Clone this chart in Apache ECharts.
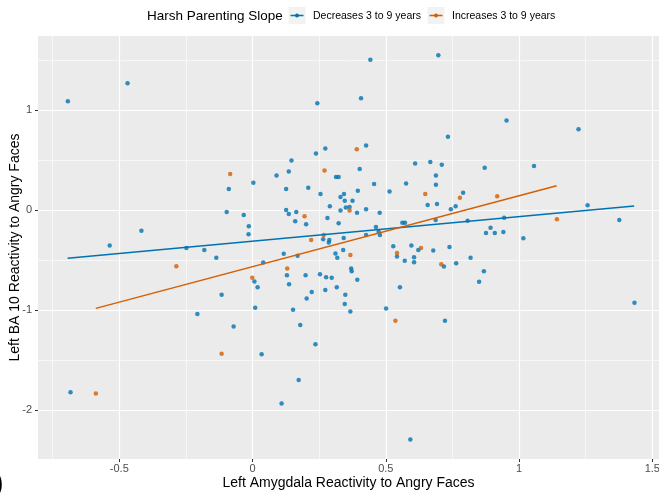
<!DOCTYPE html>
<html>
<head>
<meta charset="utf-8">
<title>Harsh Parenting Slope</title>
<script src="https://cdn.jsdelivr.net/npm/echarts@6/dist/echarts.min.js"></script>
<style>
    html, body { margin: 0; padding: 0; background: #fff; }
    #main { width: 659px; height: 497px; }
</style>
</head>
<body>
<div id="main"></div>
<script>
// 坐标轴刻度
var x_ticks = [-0.5, 0, 0.5, 1, 1.5];
var x_minor = [-0.75, -0.25, 0.25, 0.75, 1.25];
var y_ticks = [-2, -1, 0, 1];
var y_minor = [-1.5, -0.5, 0.5, 1.5];

var legend_names = ['Decreases 3 to 9 years', 'Increases 3 to 9 years'];

// Decreases 3 to 9 years
var decreases_points = [
    [-0.693, 1.09], [-0.469, 1.27], [0.003, 0.276], [-0.089, 0.213], [-0.097, -0.017], [-0.033, -0.047], [-0.014, -0.16],
    [0.442, 1.505], [0.697, 1.55], [0.243, 1.07], [0.407, 1.12], [0.733, 0.735], [0.238, 0.568], [0.273, 0.618],
    [0.426, 0.648], [0.146, 0.499], [0.09, 0.349], [0.136, 0.389], [0.313, 0.332], [0.323, 0.332], [0.402, 0.412],
    [0.61, 0.469], [0.667, 0.482], [0.71, 0.455], [0.126, 0.213], [0.209, 0.226], [0.456, 0.262], [0.576, 0.269],
    [0.688, 0.349], [0.688, 0.256], [0.514, 0.189], [0.255, 0.163], [0.343, 0.163], [0.33, 0.133], [0.395, 0.196],
    [0.346, 0.096], [0.375, 0.096], [0.29, 0.04], [0.35, 0.027], [0.364, 0.033], [0.426, 0.01], [0.33, -0.003],
    [0.392, -0.023], [0.477, -0.023], [0.657, 0.053], [0.692, 0.063], [0.744, 0.01], [0.762, 0.04], [0.126, 0.003],
    [0.136, -0.037], [0.164, -0.017], [0.16, -0.11], [0.201, -0.14], [0.281, -0.077], [0.323, -0.13], [0.463, -0.166],
    [0.562, -0.123], [0.572, -0.123], [0.687, -0.097],
    [0.953, 0.897], [1.223, 0.811], [0.871, 0.425], [1.056, 0.442], [0.79, 0.176], [0.807, -0.103], [0.944, -0.073],
    [0.893, -0.173], [1.257, 0.05], [1.376, -0.097],
    [-0.417, -0.203], [-0.536, -0.352], [-0.248, -0.376], [-0.181, -0.396], [-0.136, -0.475], [-0.015, -0.239],
    [0.007, -0.711], [0.019, -0.768], [-0.116, -0.844], [0.01, -0.974], [-0.207, -1.037], [-0.071, -1.16], [-0.683, -1.818],
    [0.265, -0.289], [0.288, -0.296], [0.286, -0.322], [0.342, -0.276], [0.426, -0.246], [0.478, -0.246], [0.473, -0.213],
    [0.117, -0.435], [0.169, -0.455], [0.04, -0.522], [0.129, -0.648], [0.137, -0.738], [0.311, -0.432], [0.318, -0.475],
    [0.34, -0.396], [0.37, -0.582], [0.372, -0.608], [0.199, -0.648], [0.253, -0.638], [0.276, -0.668], [0.297, -0.675],
    [0.393, -0.695], [0.316, -0.768], [0.273, -0.795], [0.222, -0.815], [0.203, -0.881], [0.348, -0.844], [0.346, -0.937],
    [0.367, -1.01], [0.152, -0.994], [0.179, -1.147], [0.236, -1.339], [0.034, -1.439], [0.173, -1.695], [0.109, -1.931],
    [0.592, -2.29], [0.528, -0.359], [0.542, -0.462], [0.596, -0.352], [0.622, -0.396], [0.606, -0.469], [0.606, -0.518],
    [0.571, -0.505], [0.678, -0.402], [0.739, -0.366], [0.718, -0.562], [0.764, -0.528], [0.553, -0.768], [0.501, -0.98],
    [0.722, -1.103],
    [0.876, -0.226], [0.909, -0.226], [0.941, -0.216], [1.016, -0.279], [0.818, -0.475], [0.868, -0.608], [0.85, -0.714],
    [1.433, -0.924]
];

// Increases 3 to 9 years
var increases_points = [
    [-0.084, 0.362], [0.391, 0.611], [0.27, 0.399], [0.648, 0.163], [0.778, 0.126], [0.918, 0.14], [0.364, -0.003],
    [0.195, -0.06], [1.142, -0.09], [-0.286, -0.558], [-0.001, -0.675], [-0.116, -1.432], [-0.588, -1.831],
    [0.22, -0.296], [0.267, -0.246], [0.13, -0.582], [0.367, -0.446], [0.542, -0.426], [0.632, -0.376],
    [0.708, -0.538], [0.536, -1.103]
];

// 回归线两端
var decreases_fit = [[-0.694, -0.479], [1.432, 0.043]];
var increases_fit = [[-0.588, -0.98], [1.141, 0.246]];

var colors = ['#0072B2', '#D55E00'];

var myChart = echarts.init(document.getElementById('main'));

// 次网格线（细白线），只画 splitLine
function minorAxis(isX, minor) {
    return {
        type: 'value',
        min: isX ? -0.805 : -2.485,
        max: isX ? 1.525 : 1.742,
        axisLine: { show: false, onZero: false },
        axisTick: { show: false, customValues: minor },
        axisLabel: { show: false, customValues: minor },
        splitLine: { show: true, lineStyle: { color: '#ffffff', width: 0.6 } }
    };
}

// 图例的键：灰底 + 线 + 点
function legendKey(left, color) {
    return {
        type: 'group', left: left, top: 7, z: 10,
        children: [
            { type: 'rect', shape: { x: 0, y: 0, width: 17, height: 17 }, style: { fill: '#F2F2F2' } },
            { type: 'line', shape: { x1: 2, y1: 8.5, x2: 15, y2: 8.5 }, style: { stroke: color, lineWidth: 1.5 } },
            { type: 'circle', shape: { cx: 8.5, cy: 8.5, r: 2 }, style: { fill: color } }
        ]
    };
}

var option = {
    animation: false,
    textStyle: { fontFamily: 'Liberation Sans, Arial, sans-serif' },
    grid: {
        left: 38, right: 0, top: 36, bottom: 38,
        outerBoundsMode: 'none', containLabel: false,
        show: true, backgroundColor: '#EBEBEB', borderWidth: 0
    },
    title: {
        text: 'Harsh Parenting Slope',
        left: 147, top: 9, padding: 0,
        textStyle: { fontSize: 13.5, fontWeight: 'normal', color: '#000' }
    },
    legend: [{
        data: [legend_names[0]],
        left: 288, top: 9, padding: 0,
        itemWidth: 17, itemHeight: 17, itemGap: 0,
        itemStyle: { opacity: 0 }, lineStyle: { opacity: 0 },
        textStyle: { fontSize: 10.5, color: '#000', padding: [0, 0, 0, 2] }
    }, {
        data: [legend_names[1]],
        left: 427, top: 9, padding: 0,
        itemWidth: 17, itemHeight: 17, itemGap: 0,
        itemStyle: { opacity: 0 }, lineStyle: { opacity: 0 },
        textStyle: { fontSize: 10.5, color: '#000', padding: [0, 0, 0, 2] }
    }],
    graphic: [
        legendKey(288, colors[0]),
        legendKey(427, colors[1]),
        { type: 'text', left: -5, top: 472, style: { text: ')', fontSize: 24, fontWeight: 'bold', fill: '#000' } }
    ],
    xAxis: [{
        type: 'value',
        min: -0.805, max: 1.525,
        name: 'Left Amygdala Reactivity to Angry Faces',
        nameLocation: 'middle', nameGap: 17, nameMoveOverlap: false,
        nameTextStyle: { fontSize: 14, color: '#000' },
        axisLine: { show: false, onZero: false },
        axisTick: { show: true, length: 3, customValues: x_ticks, lineStyle: { color: '#333' } },
        axisLabel: { customValues: x_ticks, fontSize: 11, color: '#4D4D4D', margin: 4 },
        splitLine: { show: true, lineStyle: { color: '#ffffff', width: 1.2 } }
    }, minorAxis(true, x_minor)],
    yAxis: [{
        type: 'value',
        min: -2.485, max: 1.742,
        name: 'Left BA 10 Reactivity to Angry Faces',
        nameLocation: 'middle', nameGap: 16, nameMoveOverlap: false,
        nameTextStyle: { fontSize: 14, color: '#000' },
        axisLine: { show: false, onZero: false },
        axisTick: { show: true, length: 3, customValues: y_ticks, lineStyle: { color: '#333' } },
        axisLabel: { customValues: y_ticks, fontSize: 11, color: '#4D4D4D', margin: 6 },
        splitLine: { show: true, lineStyle: { color: '#ffffff', width: 1.2 } }
    }, minorAxis(false, y_minor)],
    series: [
        {
            name: legend_names[0], type: 'line', data: decreases_fit, z: 4,
            symbol: 'none',
            itemStyle: { color: colors[0] },
            lineStyle: { color: colors[0], width: 1.5 }
        },
        {
            name: legend_names[1], type: 'line', data: increases_fit, z: 4,
            symbol: 'none',
            itemStyle: { color: colors[1] },
            lineStyle: { color: colors[1], width: 1.5 }
        },
        {
            name: legend_names[0], type: 'scatter', data: decreases_points, z: 3,
            symbolSize: 4.5, itemStyle: { color: colors[0] }
        },
        {
            name: legend_names[1], type: 'scatter', data: increases_points, z: 3,
            symbolSize: 4.5, itemStyle: { color: colors[1] }
        }
    ]
};

myChart.setOption(option);
</script>
</body>
</html>
